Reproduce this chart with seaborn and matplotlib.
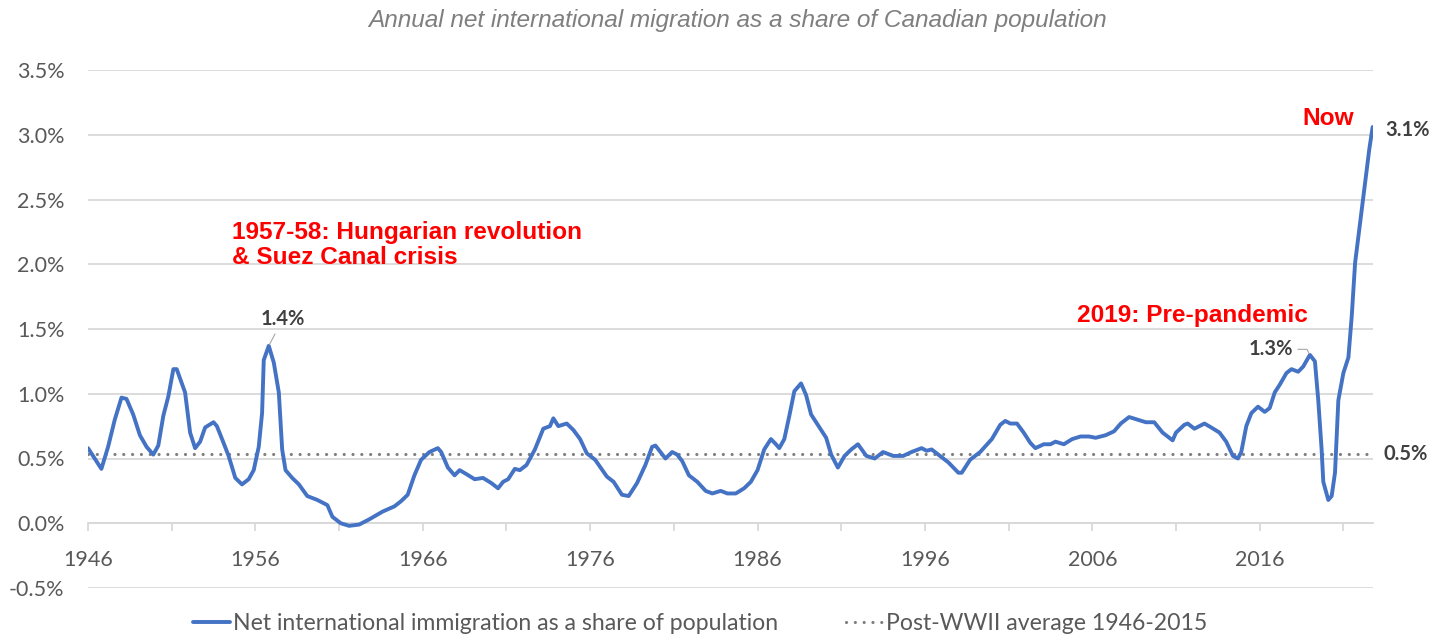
import numpy as np
import pandas as pd
import matplotlib
matplotlib.use("Agg")
import matplotlib.pyplot as plt
from matplotlib.lines import Line2D
from matplotlib.ticker import FuncFormatter
import matplotlib.transforms as mtransforms
import seaborn as sns

# Net international migration over the previous 12 months, % of population
years = [
    1946.0, 1946.8, 1947.2, 1947.6, 1948.0, 1948.3, 1948.7, 1949.1, 1949.5, 1949.9,
    1950.2, 1950.5, 1950.8, 1951.1, 1951.3, 1951.8, 1952.1, 1952.4, 1952.7, 1953.0,
    1953.5, 1953.7, 1954.1, 1954.4, 1954.8, 1955.2, 1955.6, 1955.9, 1956.2, 1956.4,
    1956.5, 1956.8, 1957.1, 1957.4, 1957.6, 1957.8, 1958.2, 1958.6, 1959.1, 1959.7,
    1960.3, 1960.6, 1961.1, 1961.6, 1962.2, 1962.8, 1963.2, 1963.6, 1964.3, 1964.7,
    1965.1, 1965.5, 1965.9, 1966.4, 1966.9, 1967.1, 1967.5, 1967.9, 1968.2, 1968.6,
    1969.1, 1969.6, 1970.1, 1970.5, 1970.8, 1971.1, 1971.5, 1971.8, 1972.2, 1972.7,
    1973.2, 1973.6, 1973.8, 1974.1, 1974.6, 1975.0, 1975.4, 1975.8, 1976.3, 1977.0,
    1977.4, 1977.9, 1978.3, 1978.8, 1979.3, 1979.7, 1979.9, 1980.2, 1980.5, 1980.9,
    1981.2, 1981.5, 1981.9, 1982.4, 1982.9, 1983.3, 1983.8, 1984.2, 1984.7, 1985.2,
    1985.6, 1986.0, 1986.4, 1986.8, 1987.1, 1987.3, 1987.6, 1987.9, 1988.2, 1988.6,
    1988.9, 1989.2, 1989.6, 1990.1, 1990.4, 1990.8, 1991.2, 1991.6, 1992.0, 1992.5,
    1993.0, 1993.5, 1994.1, 1994.7, 1995.2, 1995.8, 1996.1, 1996.4, 1996.9, 1997.4,
    1998.0, 1998.2, 1998.7, 1999.3, 2000.0, 2000.5, 2000.8, 2001.1, 2001.5, 2001.9,
    2002.3, 2002.6, 2003.1, 2003.5, 2003.8, 2004.3, 2004.8, 2005.3, 2005.8, 2006.2,
    2006.8, 2007.3, 2007.7, 2008.2, 2008.7, 2009.2, 2009.7, 2010.2, 2010.8, 2011.0,
    2011.5, 2011.7, 2012.1, 2012.7, 2013.1, 2013.6, 2014.0, 2014.4, 2014.7, 2014.9,
    2015.2, 2015.5, 2015.9, 2016.3, 2016.6, 2016.9, 2017.2, 2017.6, 2017.9, 2018.3,
    2018.6, 2019.0, 2019.3, 2019.5, 2019.7, 2019.8, 2020.1, 2020.3, 2020.5, 2020.7,
    2021.0, 2021.3, 2021.5, 2021.7, 2022.0, 2022.3, 2022.55, 2022.75,
]
share = [
    0.58, 0.42, 0.59, 0.80, 0.97, 0.96, 0.84, 0.68, 0.59, 0.53,
    0.60, 0.83, 0.98, 1.19, 1.19, 1.01, 0.70, 0.58, 0.63, 0.74,
    0.78, 0.75, 0.62, 0.52, 0.35, 0.30, 0.34, 0.41, 0.59, 0.85,
    1.26, 1.37, 1.24, 1.01, 0.57, 0.41, 0.35, 0.30, 0.21, 0.18,
    0.14, 0.05, 0.00, -0.02, -0.01, 0.03, 0.06, 0.09, 0.13, 0.17,
    0.22, 0.37, 0.49, 0.55, 0.58, 0.55, 0.43, 0.37, 0.41, 0.38,
    0.34, 0.35, 0.31, 0.27, 0.32, 0.34, 0.42, 0.41, 0.45, 0.57,
    0.73, 0.75, 0.81, 0.75, 0.77, 0.72, 0.65, 0.54, 0.49, 0.36,
    0.32, 0.22, 0.21, 0.31, 0.45, 0.59, 0.60, 0.55, 0.50, 0.55,
    0.53, 0.48, 0.37, 0.32, 0.25, 0.23, 0.25, 0.23, 0.23, 0.27,
    0.32, 0.41, 0.57, 0.65, 0.61, 0.58, 0.65, 0.83, 1.02, 1.08,
    0.99, 0.84, 0.76, 0.66, 0.53, 0.43, 0.52, 0.57, 0.61, 0.52,
    0.50, 0.55, 0.52, 0.52, 0.55, 0.58, 0.56, 0.57, 0.52, 0.47,
    0.39, 0.39, 0.49, 0.55, 0.65, 0.76, 0.79, 0.77, 0.77, 0.70,
    0.62, 0.58, 0.61, 0.61, 0.63, 0.61, 0.65, 0.67, 0.67, 0.66,
    0.68, 0.71, 0.77, 0.82, 0.80, 0.78, 0.78, 0.70, 0.64, 0.70,
    0.76, 0.77, 0.73, 0.77, 0.74, 0.70, 0.63, 0.52, 0.50, 0.55,
    0.75, 0.85, 0.90, 0.86, 0.89, 1.01, 1.07, 1.16, 1.19, 1.17,
    1.21, 1.30, 1.25, 0.95, 0.57, 0.32, 0.18, 0.21, 0.39, 0.95,
    1.16, 1.28, 1.60, 2.01, 2.32, 2.63, 2.89, 3.06,
]
avg_share = 0.535  # post-WWII average, 1946-2015

series_label = "Net international immigration as a share of population"
avg_label = "Post-WWII average 1946-2015"
title = "Annual net international migration as a share of Canadian population"
y_ticks = [-0.5, 0.0, 0.5, 1.0, 1.5, 2.0, 2.5, 3.0, 3.5]
x_labels = [1946, 1956, 1966, 1976, 1986, 1996, 2006, 2016]

df = pd.DataFrame({"year": years, "share": share})

sns.set_theme(style="white")
plt.rcParams["font.family"] = ["Lato", "DejaVu Sans"]

BLUE = "#4472C4"
DOTS = "#7F7F7F"
GRID = "#D9D9D9"
TICK_TXT = "#595959"
VAL_TXT = "#404040"
RED = "#FF0000"

W, H = 1451, 638
fig = plt.figure(figsize=(W / 100, H / 100), dpi=100)
ax = fig.add_axes([88 / W, 50 / H, (1373 - 88) / W, (588 - 70) / H])

sns.lineplot(data=df, x="year", y="share", ax=ax, color=BLUE, linewidth=2.8,
             sort=False, legend=False, zorder=4)
ax.axhline(avg_share, color=DOTS, linewidth=2.3, linestyle=(0, (0.01, 2.75)),
           dash_capstyle="round", zorder=3)

ax.set_xlim(1946, 2022.77)
ax.set_ylim(-0.5, 3.5)
ax.set_xlabel("")
ax.set_ylabel("")

# y axis: percent gridlines
ax.set_yticks(y_ticks)
ax.yaxis.set_major_formatter(FuncFormatter(lambda v, _: f"{v:.1f}%"))
ax.yaxis.grid(True, color=GRID, linewidth=1.3, zorder=0)
ax.tick_params(axis="y", length=0, pad=17, labelsize=15.5, labelcolor=TICK_TXT)

# x axis drawn on the zero line
for side in ["top", "right", "left"]:
    ax.spines[side].set_visible(False)
ax.spines["bottom"].set_position(("data", 0))
ax.spines["bottom"].set_color(GRID)
ax.spines["bottom"].set_linewidth(1.3)
ax.set_xticks(x_labels)
ax.set_xticklabels([str(y) for y in x_labels])
ax.set_xticks([y + 5 for y in x_labels], minor=True)
ax.tick_params(axis="x", which="both", direction="out", length=6, width=1.3,
               color=GRID, bottom=True)
ax.tick_params(axis="x", which="major", pad=13, labelsize=15.5, labelcolor=TICK_TXT)

# title
fig.text(738 / W, 1 - 20 / H, title, ha="center", va="center", fontsize=17.6,
         style="italic", color="#7F7F7F", family=["Liberation Sans", "DejaVu Sans"])

# value labels
yr = np.asarray(years)
sh = np.asarray(share)
peak_old = int(np.argmax(np.where(yr < 1960, sh, -np.inf)))
peak_2019 = int(np.argmax(np.where((yr > 2015) & (yr < 2020), sh, -np.inf)))
last = len(share) - 1
lead = dict(arrowstyle="-", color="#A6A6A6", lw=0.8, shrinkA=1, shrinkB=1)

ax.annotate(f"{share[peak_old]:.1f}%", xy=(years[peak_old], share[peak_old]),
            xytext=(10, 19), textcoords="offset points", ha="center", va="center",
            fontsize=14.5, fontweight="bold", color=VAL_TXT, arrowprops=lead, zorder=6)
ax.annotate(f"{share[peak_2019]:.1f}%", xy=(years[peak_2019], share[peak_2019]),
            xytext=(-28, 4), textcoords="offset points", ha="center", va="center",
            fontsize=14.5, fontweight="bold", color=VAL_TXT,
            arrowprops=dict(lead, connectionstyle="angle,angleA=0,angleB=118,rad=0"),
            zorder=6)
ax.annotate(f"{share[last]:.1f}%", xy=(years[last], share[last]),
            xytext=(9, -2), textcoords="offset points", ha="left", va="center",
            fontsize=14.5, fontweight="bold", color=VAL_TXT, annotation_clip=False)
blend = mtransforms.blended_transform_factory(ax.transAxes, ax.transData)
ax.text(1.0078, avg_share, f"{avg_share:.1f}%", transform=blend, ha="left",
        va="center", fontsize=14.5, fontweight="bold", color=VAL_TXT)

# event annotations
red_kw = dict(color=RED, fontsize=17.6, fontweight="bold", va="baseline",
              family=["Liberation Sans", "DejaVu Sans"])
ax.text(1954.6, 2.196, "1957-58: Hungarian revolution", **red_kw)
ax.text(1954.6, 2.003, "& Suez Canal crisis", **red_kw)
ax.text(2005.08, 1.557, "2019: Pre-pandemic", **red_kw)
ax.text(2018.58, 3.072, "Now", **red_kw)

# legend
handles = [
    Line2D([], [], color=BLUE, linewidth=2.8),
    Line2D([], [], color=DOTS, linewidth=2.3, linestyle=(0, (0.01, 2.75)),
           dash_capstyle="round"),
]
leg = fig.legend(handles, [series_label, avg_label], loc="center",
                 bbox_to_anchor=(700 / W, 1 - 624 / H), ncol=2, frameon=False,
                 fontsize=16.6, handlelength=1.6, handletextpad=0.13,
                 columnspacing=2.95)
for t in leg.get_texts():
    t.set_color(TICK_TXT)

fig.savefig("out.png", dpi=100)
